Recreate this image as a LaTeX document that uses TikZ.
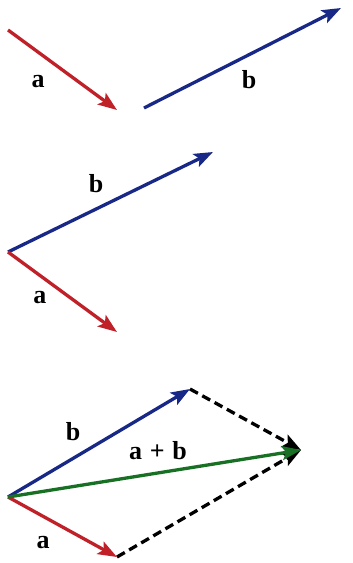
\documentclass[tikz,border=0pt]{standalone}
\usepackage{fontspec}
\setmainfont{Liberation Serif}
\usetikzlibrary{arrows.meta}
\definecolor{vred}{RGB}{192,32,40}
\definecolor{vblue}{RGB}{24,40,135}
\definecolor{vgreen}{RGB}{24,112,36}
\tikzset{
  vec/.style={line width=3.3pt, -{Stealth[length=19pt,width=14pt,inset=4pt]}},
  dvec/.style={vec, black, dash pattern=on 9pt off 5pt},
  lbl/.style={font=\fontsize{26}{30}\selectfont\bfseries, inner sep=0pt}
}
\begin{document}
\begin{tikzpicture}[x=1pt,y=-1pt]
\useasboundingbox (0,0) rectangle (353,563);
% panel 1
\coordinate (a1s) at (8,30);
\coordinate (a1e) at (117,110);
\coordinate (b1s) at (144,108);
\coordinate (b1e) at (341,8);
\draw[vec, vred] (a1s) -- (a1e);
\draw[vec, vblue] (b1s) -- (b1e);
\node[lbl] (la1) at (38,82) {a};
\node[lbl] (lb1) at (249,80) {b};
% panel 2
\coordinate (o2) at (8,252);
\coordinate (b2e) at (213,152);
\coordinate (a2e) at (117,332);
\draw[vec, vblue] (o2) -- (b2e);
\draw[vec, vred] (o2) -- (a2e);
\node[lbl] (lb2) at (96,184) {b};
\node[lbl] (la2) at (40,298) {a};
% panel 3
\coordinate (o3) at (8,497);
\coordinate (b3e) at (190,389);
\coordinate (a3e) at (117,557);
\coordinate (s3e) at (301,450);
\draw[dvec] (b3e) -- (s3e);
\draw[dvec] (a3e) -- (s3e);
\draw[vec, vblue] (o3) -- (b3e);
\draw[vec, vred] (o3) -- (a3e);
\draw[vec, vgreen] (o3) -- (s3e);
\node[lbl] (lb3) at (73,432) {b};
\node[lbl] (ls3) at (158,451) {a\hspace{0.3em}+\hspace{0.3em}b};
\node[lbl] (la3) at (43,543) {a};
\end{tikzpicture}
\end{document}
